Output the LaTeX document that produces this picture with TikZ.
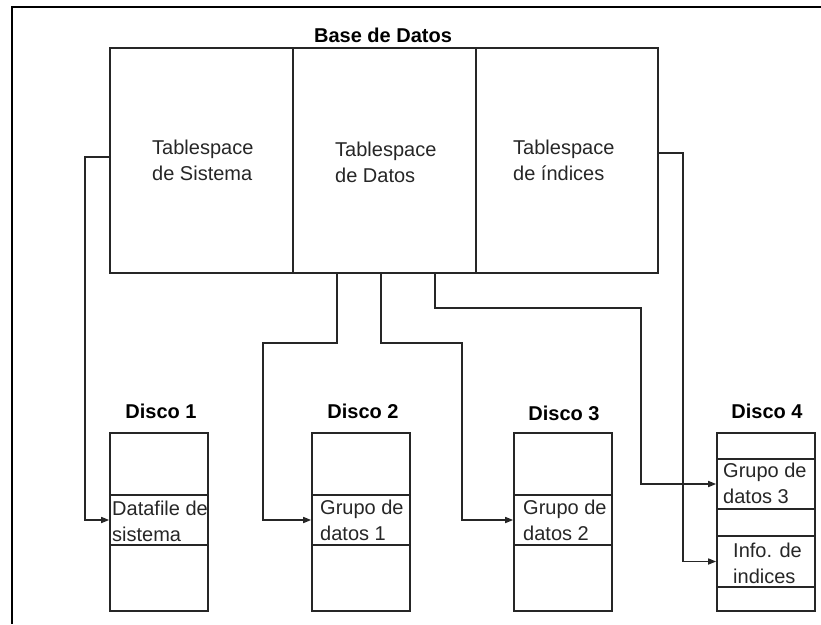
\documentclass[tikz,border=0pt]{standalone}
\usepackage{fontspec}
\setmainfont{Liberation Sans}
\usetikzlibrary{arrows.meta}
\begin{document}
\begin{tikzpicture}[x=1pt,y=-1pt,
  band/.style={draw=black!85, line width=1.6pt, inner sep=0pt, minimum width=#1},
  band/.default=98pt,
  ts/.style={draw=black!85, line width=1.6pt, inner sep=0pt, minimum width=183pt, minimum height=225pt},
  txt/.style={anchor=north west, align=left, inner sep=0pt, font=\fontsize{20}{26.5}\selectfont, text=black!85},
  ttl/.style={anchor=base, inner sep=0pt, font=\fontsize{20}{24}\selectfont\bfseries},
  conn/.style={draw=black!85, line width=1.5pt},
  arr/.style={conn, -{Triangle[length=8pt,width=6pt]}}]
\useasboundingbox (0,0) rectangle (821,624);
\draw[line width=1.8pt] (821,7) -- (12,7) -- (12,624);

% Base de datos
\node[ttl] (bd) at (383,42) {Base de Datos};
\node[ts] (tsys) at (201.5,160.5) {};
\node[ts] (tdat) at (384.5,160.5) {};
\node[ts, minimum width=182pt] (tidx) at (567,160.5) {};
\node[txt] (tsyst) at (152,139.4) {Tablespace\\de Sistema};
\node[txt] (tdatt) at (335,141.4) {Tablespace\\de Datos};
\node[txt] (tidxt) at (513,139.4) {Tablespace\\de índices};

% Disco 1
\node[ttl] (l1) at (161,418) {Disco 1};
\node[band, minimum height=62pt] (d1a) at (159,464) {};
\node[band, minimum height=50pt] (d1m) at (159,520) {};
\node[band, minimum height=66pt] (d1b) at (159,578) {};
\node[txt] (d1t) at (112,500.4) {Datafile de\\sistema};

% Disco 2
\node[ttl] (l2) at (363,418) {Disco 2};
\node[band, minimum height=62pt] (d2a) at (361,464) {};
\node[band, minimum height=50pt] (d2m) at (361,520) {};
\node[band, minimum height=66pt] (d2b) at (361,578) {};
\node[txt] (d2t) at (320,499.4) {Grupo de\\datos 1};

% Disco 3
\node[ttl] (l3) at (564,420) {Disco 3};
\node[band, minimum height=62pt] (d3a) at (563,464) {};
\node[band, minimum height=50pt] (d3m) at (563,520) {};
\node[band, minimum height=66pt] (d3b) at (563,578) {};
\node[txt] (d3t) at (523,499.4) {Grupo de\\datos 2};

% Disco 4
\node[ttl] (l4) at (767,418) {Disco 4};
\node[band, minimum height=26pt] (d4a) at (766,446) {};
\node[band, minimum height=50pt] (d4g) at (766,484) {};
\node[band, minimum height=27pt] (d4c) at (766,522.5) {};
\node[band, minimum height=51pt] (d4i) at (766,561.5) {};
\node[band, minimum height=24pt] (d4e) at (766,599) {};
\node[txt] (d4gt) at (723,462.4) {Grupo de\\datos 3};
\node[txt] (d4it) at (733,542.4) {Info. de\\indices};

% connectors
\draw[arr] (tsys.west |- 0,157) -- (85,157) |- (d1m.west);
\draw[arr] (tidx.east |- 0,153) -- (683,153) |- (d4i.west);
\draw[arr] (tdat.south -| 337,0) |- (263,343) |- (d2m.west);
\draw[arr] (tdat.south -| 381,0) |- (462,343) |- (d3m.west);
\draw[arr] (tdat.south -| 435,0) |- (641,308) |- (d4g.west);
\end{tikzpicture}
\end{document}
